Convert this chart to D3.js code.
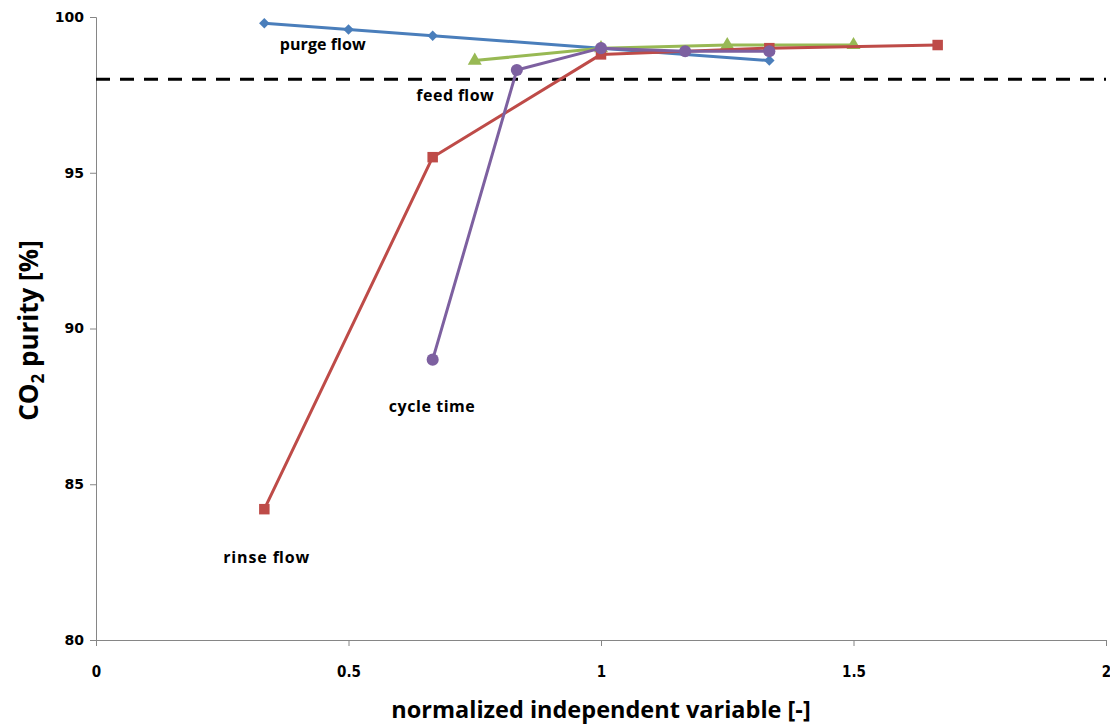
<!DOCTYPE html>
<html><head><meta charset="utf-8">
<script src="https://cdn.jsdelivr.net/npm/d3@7"></script>
<style>body{margin:0;background:#fff}svg{display:block}</style>
</head><body>
<svg id="c" width="1110" height="724"></svg>
<script>
const purgeX = [1/3, 0.5, 2/3, 1, 4/3];
const purgeY = [99.8, 99.6, 99.4, 99.0, 98.6];
const feedX = [0.75, 1, 1.25, 1.5];
const feedY = [98.6, 99.0, 99.1, 99.1];
const rinseX = [1/3, 2/3, 1, 4/3, 5/3];
const rinseY = [84.2, 95.5, 98.8, 99.0, 99.1];
const cycleX = [2/3, 5/6, 1, 7/6, 4/3];
const cycleY = [89.0, 98.3, 99.0, 98.9, 98.9];
const thresholdY = 98;
const xTicks = [0, 0.5, 1, 1.5, 2];
const xTickLabels = ["0", "0.5", "1", "1.5", "2"];
const yTicks = [80, 85, 90, 95, 100];
const seriesLabels = [
  {text: "purge flow", x: 0.449, y: 98.94},
  {text: "feed flow", x: 0.711, y: 97.3},
  {text: "cycle time", x: 0.665, y: 87.32},
  {text: "rinse flow", x: 0.337, y: 82.47}
];

const svg = d3.select("#c");
const L = 96, R = 1106, T = 17, B = 640;
const x = d3.scaleLinear().domain([0, 2]).range([L, R]);
const y = d3.scaleLinear().domain([80, 100]).range([B, T]);

// axes
const xa = svg.append("g").attr("transform", `translate(0,${B})`)
  .call(d3.axisBottom(x).tickValues(xTicks).tickFormat((d,i)=>xTickLabels[i]).tickSize(6).tickPadding(20));
const ya = svg.append("g").attr("transform", `translate(${L},0)`)
  .call(d3.axisLeft(y).tickValues(yTicks).tickSize(6).tickPadding(6));
[xa, ya].forEach(a => {
  a.select(".domain").attr("stroke", "#868686").attr("stroke-width", 1);
  a.selectAll(".tick line").attr("stroke", "#868686");
  a.selectAll("text").attr("fill", "#000").attr("font-weight", "bold");
});
xa.selectAll("text").attr("font-family", "'Liberation Sans Narrow', 'DejaVu Sans Condensed', sans-serif").attr("font-size", 15);
ya.selectAll("text").attr("font-family", "'DejaVu Sans', sans-serif").attr("font-size", 14);

// threshold dashed line
svg.append("line").attr("x1", x(0)).attr("x2", x(2)).attr("y1", y(thresholdY)).attr("y2", y(thresholdY))
  .attr("stroke", "#000").attr("stroke-width", 3).attr("stroke-dasharray", "14,10");

const line = d3.line().x(d => x(d[0])).y(d => y(d[1]));
function series(xs, ys, color, shape, size, rot) {
  const pts = xs.map((v, i) => [v, ys[i]]);
  svg.append("path").datum(pts).attr("d", line).attr("fill", "none")
    .attr("stroke", color).attr("stroke-width", 3).attr("stroke-linejoin", "round");
  svg.append("g").selectAll("path").data(pts).join("path")
    .attr("transform", d => `translate(${x(d[0])},${y(d[1])}) rotate(${rot || 0})`)
    .attr("d", d3.symbol().type(shape).size(size)).attr("fill", color);
}
series(purgeX, purgeY, "#4A7EBB", d3.symbolSquare, 55, 45);
series(feedX, feedY, "#98B954", d3.symbolTriangle, 85);
series(rinseX, rinseY, "#BE4B48", d3.symbolSquare, 110);
series(cycleX, cycleY, "#7D60A0", d3.symbolCircle, 115);

// series labels
svg.append("g").selectAll("text").data(seriesLabels).join("text")
  .attr("x", d => x(d.x)).attr("y", d => y(d.y)).attr("text-anchor", "middle")
  .attr("font-family", "'Open Sans', sans-serif").attr("font-weight", "bold").attr("font-size", 16)
  .attr("textLength", d => d.text.length * 8.6).attr("fill", "#000").text(d => d.text);

// axis titles
svg.append("text").attr("x", 601).attr("y", 718).attr("text-anchor", "middle")
  .attr("font-family", "'Open Sans', sans-serif").attr("font-weight", "bold").attr("font-size", 23.5)
  .attr("fill", "#000").text("normalized independent variable [-]");
const yt = svg.append("text").attr("transform", `translate(38,${y(90) + 2}) rotate(-90)`).attr("text-anchor", "middle")
  .attr("font-family", "'Open Sans', sans-serif").attr("font-weight", "bold").attr("font-size", 26).attr("fill", "#000");
yt.append("tspan").text("CO");
yt.append("tspan").attr("font-size", 17).attr("dy", 6).text("2");
yt.append("tspan").attr("dy", -6).text(" purity [%]");
</script>
</body></html>
